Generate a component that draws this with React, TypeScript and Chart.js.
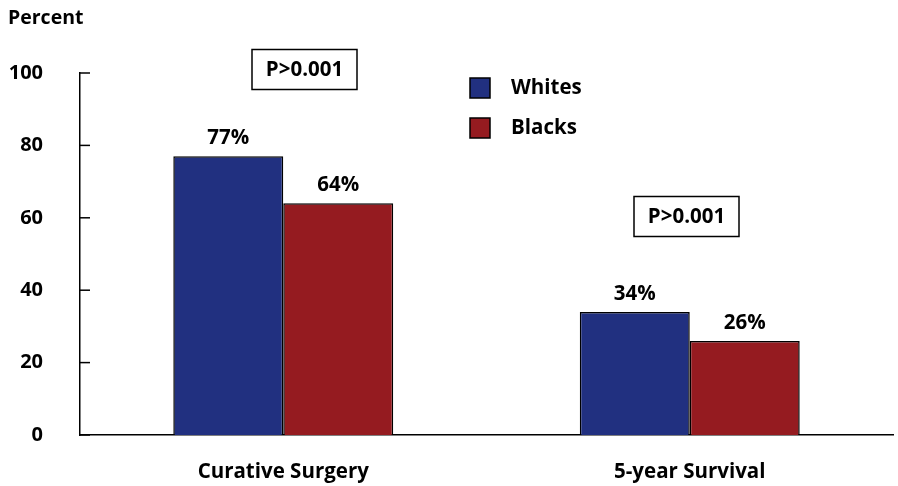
import React, { useEffect, useRef } from "react";
import { Chart, registerables } from "chart.js";

Chart.register(...registerables);

const categories = ["Curative Surgery", "5-year Survival"];
const seriesNames = ["Whites", "Blacks"];
const whites = [77, 34];
const blacks = [64, 26];
const seriesColors = ["#213080", "#951b20"];
const yTickStep = 20;
const yMax = 100;
const pValues = ["P>0.001", "P>0.001"];
const axisTitle = "Percent";

const FONT = "'Open Sans', 'Noto Sans', sans-serif";

const overlayPlugin = {
  id: "overlay",
  afterDraw(chart: any) {
    const ctx = chart.ctx;
    const area = chart.chartArea;
    const yScale = chart.scales.y;
    ctx.save();
    // inward tick marks
    ctx.strokeStyle = "#000";
    ctx.lineWidth = 1.5;
    yScale.ticks.forEach((t: any) => {
      const py = yScale.getPixelForValue(t.value);
      ctx.beginPath();
      ctx.moveTo(area.left, py);
      ctx.lineTo(area.left + 10, py);
      ctx.stroke();
    });
    // axis title
    ctx.fillStyle = "#000";
    ctx.font = `bold 19.5px ${FONT}`;
    ctx.textAlign = "left";
    ctx.textBaseline = "middle";
    ctx.fillText(axisTitle, 8, 18);

    // value labels
    ctx.font = `bold 20.5px ${FONT}`;
    ctx.textAlign = "center";
    chart.data.datasets.forEach((ds: any, di: number) => {
      const meta = chart.getDatasetMeta(di);
      meta.data.forEach((bar: any, i: number) => {
        ctx.fillText(`${ds.data[i]}%`, bar.x, bar.y - 18);
      });
    });

    // legend
    chart.data.datasets.forEach((ds: any, di: number) => {
      const top = 78 + di * 40;
      ctx.fillStyle = ds.backgroundColor;
      ctx.fillRect(470, top, 20, 20);
      ctx.strokeStyle = "#000";
      ctx.lineWidth = 1.5;
      ctx.strokeRect(470, top, 20, 20);
      ctx.fillStyle = "#000";
      ctx.textAlign = "left";
      ctx.font = `bold 20.5px ${FONT}`;
      ctx.fillText(ds.label, 511, top + 10);
    });

    // p-value boxes
    const boxes = [
      { x: 252, y: 49.5, w: 105, h: 40 },
      { x: 634, y: 196.5, w: 105, h: 40 },
    ];
    boxes.forEach((b, i) => {
      ctx.fillStyle = "#fff";
      ctx.fillRect(b.x, b.y, b.w, b.h);
      ctx.strokeStyle = "#000";
      ctx.lineWidth = 1.5;
      ctx.strokeRect(b.x, b.y, b.w, b.h);
      ctx.fillStyle = "#000";
      ctx.textAlign = "center";
      ctx.font = `bold 20.5px ${FONT}`;
      ctx.fillText(pValues[i], b.x + b.w / 2, b.y + b.h / 2 + 1);
    });
    ctx.restore();
  },
};

export default function App() {
  const ref = useRef<HTMLCanvasElement | null>(null);
  useEffect(() => {
    if (!ref.current) return;
    const chart = new Chart(ref.current, {
      type: "bar",
      data: {
        labels: categories,
        datasets: [
          {
            label: seriesNames[0],
            data: whites,
            backgroundColor: seriesColors[0],
            borderColor: "#000",
            borderWidth: 1.5,
          },
          {
            label: seriesNames[1],
            data: blacks,
            backgroundColor: seriesColors[1],
            borderColor: "#000",
            borderWidth: 1.5,
          },
        ],
      },
      options: {
        animation: false,
        responsive: true,
        maintainAspectRatio: false,
        layout: { padding: { top: 73, right: 5, left: 0, bottom: 0 } },
        plugins: {
          legend: { display: false },
          tooltip: { enabled: false },
          title: { display: false },
        },
        datasets: {
          bar: { categoryPercentage: 0.541, barPercentage: 1 },
        },
        scales: {
          x: {
            grid: { display: false, drawTicks: false },
            border: { display: true, color: "#000", width: 1.5 },
            ticks: {
              color: "#000",
              padding: 25,
              font: { family: FONT, size: 20.5, weight: "bold" },
            },
            afterFit: (s: any) => {
              s.height = 51;
            },
          },
          y: {
            min: 0,
            max: yMax,
            grid: { display: false, drawTicks: false },
            border: { display: true, color: "#000", width: 1.5 },
            ticks: {
              stepSize: yTickStep,
              color: "#000",
              padding: 37,
              font: { family: FONT, size: 20, weight: "bold" },
            },
            afterFit: (s: any) => {
              s.width = 80;
            },
          },
        },
      },
      plugins: [overlayPlugin],
    } as any);
    return () => chart.destroy();
  }, []);
  return (
    <div
      style={{
        position: "absolute",
        left: 0,
        top: 0,
        width: 898,
        height: 486,
        background: "#fff",
      }}
    >
      <canvas ref={ref} />
    </div>
  );
}
